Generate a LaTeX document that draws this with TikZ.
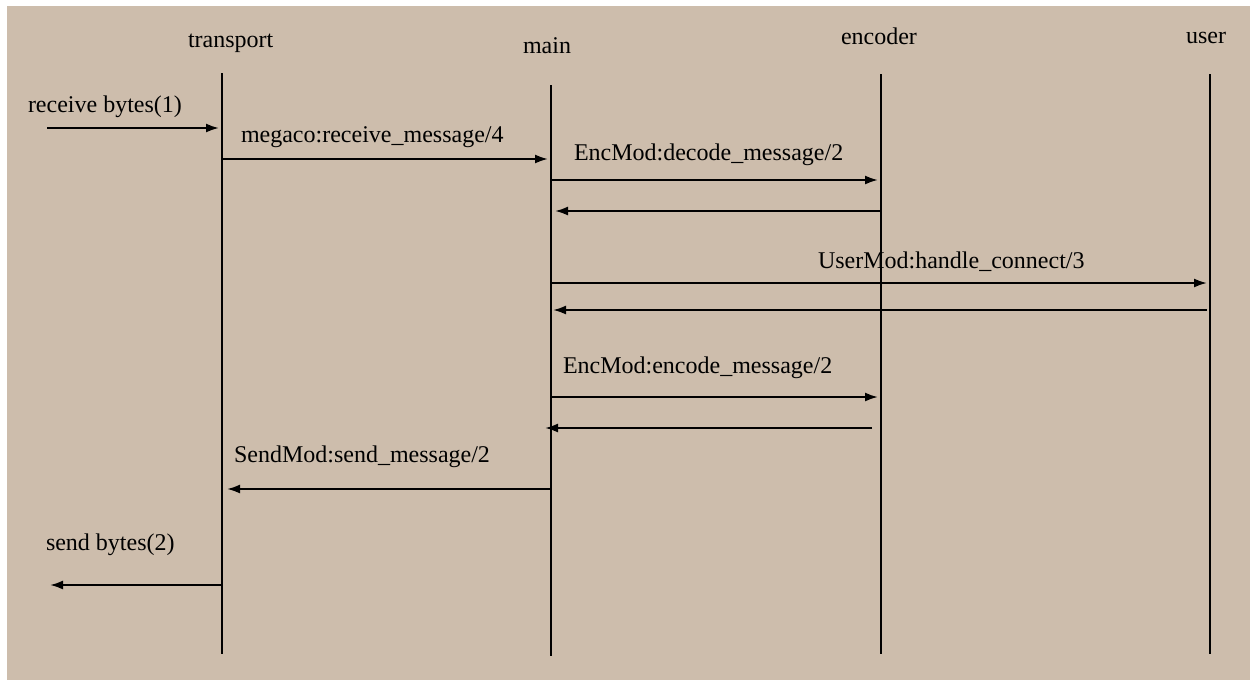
\documentclass[tikz,border=0pt]{standalone}
\usepackage{fontspec}
\setmainfont{Liberation Serif}
\usetikzlibrary{arrows.meta, positioning}
\definecolor{bgtan}{RGB}{205,189,172}

\begin{document}
\begin{tikzpicture}[x=1pt,y=-1pt,line width=2pt,
  msg/.style={-{Latex[length=13pt,width=9pt]}},
  lbl/.style={anchor=base west,inner sep=0pt,font=\fontsize{24}{28}\selectfont}]
% Background
\fill[white] (0,0) rectangle (1250,681);
\fill[bgtan] (7,6) rectangle (1250,680);
\useasboundingbox (0,0) rectangle (1250,681);
% Objects
\node[lbl] (transport) at (187,47) {transport};
\node[lbl] (main) at (522,53) {main};
\node[lbl] (encoder) at (840,44) {encoder};
\node[lbl] (user) at (1185,43) {user};
% Lifelines
\coordinate (tTop) at (222,73);  \coordinate (tBot) at (222,654);
\coordinate (mTop) at (551,85);  \coordinate (mBot) at (551,656);
\coordinate (eTop) at (881,74);  \coordinate (eBot) at (881,654);
\coordinate (uTop) at (1210,74); \coordinate (uBot) at (1210,654);
\draw (tTop) -- (tBot);
\draw (mTop) -- (mBot);
\draw (eTop) -- (eBot);
\draw (uTop) -- (uBot);
% Messages
\coordinate (in1) at (47,128);   \coordinate (t1) at (219,128);
\coordinate (t2) at (222,159);   \coordinate (m2) at (548,159);
\coordinate (m3) at (551,180);   \coordinate (e3) at (878,180);
\coordinate (e4) at (881,211);   \coordinate (m4) at (555,211);
\coordinate (m5) at (551,283);   \coordinate (u5) at (1207,283);
\coordinate (u6) at (1207,310);  \coordinate (m6) at (553,310);
\coordinate (m7) at (551,397);   \coordinate (e7) at (878,397);
\coordinate (e8) at (872,428);   \coordinate (m8) at (545,428);
\coordinate (m9) at (551,489);   \coordinate (t9) at (227,489);
\coordinate (t10) at (222,585);  \coordinate (out10) at (50,585);
\draw[msg] (in1) -- (t1);
\draw[msg] (t2) -- (m2);
\draw[msg] (m3) -- (e3);
\draw[msg] (e4) -- (m4);
\draw[msg] (m5) -- (u5);
\draw[msg] (u6) -- (m6);
\draw[msg] (m7) -- (e7);
\draw[msg] (e8) -- (m8);
\draw[msg] (m9) -- (t9);
\draw[msg] (t10) -- (out10);
% Labels
\node[lbl] (rcvBytes) at (27,112) {receive bytes(1)};
\node[lbl] (rcvMsg) at (240,142) {megaco:receive\_message/4};
\node[lbl] (decMsg) at (573,160) {EncMod:decode\_message/2};
\node[lbl] (hConn) at (817,268) {UserMod:handle\_connect/3};
\node[lbl] (encMsg) at (562,373) {EncMod:encode\_message/2};
\node[lbl] (sndMsg) at (233,462) {SendMod:send\_message/2};
\node[lbl] (sndBytes) at (45,550) {send bytes(2)};
\end{tikzpicture}
\end{document}
